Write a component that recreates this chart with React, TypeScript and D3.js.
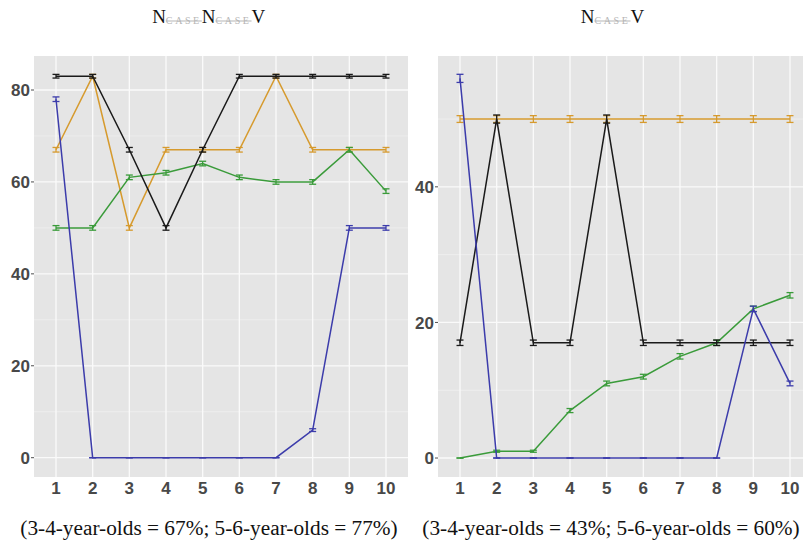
import * as d3 from "d3";
import React from "react";

// x categories (trial number)
const trials = ["1", "2", "3", "4", "5", "6", "7", "8", "9", "10"];

// left panel: NcaseNcaseV
const leftBlack = [83, 83, 67, 50, 67, 83, 83, 83, 83, 83];
const leftOrange = [67, 83, 50, 67, 67, 67, 83, 67, 67, 67];
const leftGreen = [50, 50, 61, 62, 64, 61, 60, 60, 67, 58];
const leftBlue = [78, 0, 0, 0, 0, 0, 0, 6, 50, 50];
// error bar half-widths (percentage points)
const leftBlackErr = [0.4, 0.4, 0.5, 0.5, 0.5, 0.4, 0.4, 0.4, 0.4, 0.4];
const leftOrangeErr = [0.5, 0.4, 0.5, 0.5, 0.5, 0.5, 0.4, 0.5, 0.5, 0.5];
const leftGreenErr = [0.5, 0.5, 0.5, 0.5, 0.5, 0.5, 0.5, 0.5, 0.5, 0.5];
const leftBlueErr = [0.5, 0, 0, 0, 0, 0, 0, 0.3, 0.5, 0.5];
const leftTicks = [0, 20, 40, 60, 80];
const leftMinor = [10, 30, 50, 70];

// right panel: NcaseV
const rightBlack = [17, 50, 17, 17, 50, 17, 17, 17, 17, 17];
const rightOrange = [50, 50, 50, 50, 50, 50, 50, 50, 50, 50];
const rightGreen = [0, 1, 1, 7, 11, 12, 15, 17, 22, 24];
const rightBlue = [56, 0, 0, 0, 0, 0, 0, 0, 22, 11];
const rightBlackErr = [0.4, 0.6, 0.4, 0.4, 0.6, 0.4, 0.4, 0.4, 0.4, 0.4];
const rightOrangeErr = [0.5, 0.5, 0.5, 0.5, 0.5, 0.5, 0.5, 0.5, 0.5, 0.5];
const rightGreenErr = [0, 0.15, 0.15, 0.3, 0.35, 0.35, 0.4, 0.4, 0.4, 0.4];
const rightBlueErr = [0.6, 0, 0, 0, 0, 0, 0, 0, 0.4, 0.35];
const rightTicks = [0, 20, 40];
const rightMinor = [10, 30, 50];

const captions = [
  "(3-4-year-olds = 67%; 5-6-year-olds = 77%)",
  "(3-4-year-olds = 43%; 5-6-year-olds = 60%)",
];

const colors = {
  orange: "#d69a2d",
  green: "#3a9b3a",
  black: "#1a1a1a",
  blue: "#3c3cab",
};

type Series = { values: number[]; err: number[]; color: string };

function Panel({
  x0, x1, y0, y1, domain, ticks, minor, series,
}: {
  x0: number; x1: number; y0: number; y1: number;
  domain: [number, number]; ticks: number[]; minor: number[];
  series: Series[];
}) {
  const x = d3.scalePoint<string>().domain(trials).range([x0, x1]).padding(0.6);
  const y = d3.scaleLinear().domain(domain).range([y1, y0]);
  const line = d3
    .line<number>()
    .x((_, i) => x(trials[i])!)
    .y((d) => y(d));
  const cap = 3.5;
  return (
    <g>
      <rect x={x0} y={y0} width={x1 - x0} height={y1 - y0} fill="#e5e5e5" />
      {minor.map((t) => (
        <line key={"m" + t} x1={x0} x2={x1} y1={y(t)} y2={y(t)} stroke="#f2f2f2" strokeWidth={0.7} />
      ))}
      {ticks.map((t) => (
        <line key={"t" + t} x1={x0} x2={x1} y1={y(t)} y2={y(t)} stroke="#fafafa" strokeWidth={1.3} />
      ))}
      {trials.map((c) => (
        <line key={c} x1={x(c)} x2={x(c)} y1={y0} y2={y1} stroke="#fafafa" strokeWidth={1.3} />
      ))}
      {series.map((s, si) => (
        <g key={si} stroke={s.color} fill="none">
          <path d={line(s.values)!} strokeWidth={1.5} />
          {s.values.map((v, i) => {
            const cx = x(trials[i])!;
            const e = s.err[i];
            return (
              <g key={i} strokeWidth={1.3}>
                <line x1={cx} x2={cx} y1={y(v - e)} y2={y(v + e)} />
                <line x1={cx - cap} x2={cx + cap} y1={y(v - e)} y2={y(v - e)} />
                <line x1={cx - cap} x2={cx + cap} y1={y(v + e)} y2={y(v + e)} />
              </g>
            );
          })}
        </g>
      ))}
      {ticks.map((t) => (
        <g key={"l" + t}>
          <line x1={x0 - 3} x2={x0} y1={y(t)} y2={y(t)} stroke="#4d4d4d" strokeWidth={1} />
          <text
            x={x0 - 4}
            y={y(t)}
            dy="0.36em"
            textAnchor="end"
            fontFamily="Liberation Sans, Arial, sans-serif"
            fontWeight="bold"
            fontSize={17}
            fill="#484848"
          >
            {t}
          </text>
        </g>
      ))}
      {trials.map((c) => (
        <text
          key={"x" + c}
          x={x(c)}
          y={y1 + 16.5}
          textAnchor="middle"
          fontFamily="Liberation Sans, Arial, sans-serif"
          fontWeight="bold"
          fontSize={17}
          fill="#484848"
        >
          {c}
        </text>
      ))}
    </g>
  );
}

function Case() {
  return (
    <tspan
      fontSize={10}
      fill="#b5b5b5"
      dy={1}
      letterSpacing={2.6}
      style={{ textDecoration: "line-through" }}
    >
      CASE
    </tspan>
  );
}

export default function App() {
  const serif = "Liberation Serif, Times New Roman, serif";
  return (
    <svg
      width={803}
      height={543}
      style={{ position: "absolute", left: 0, top: 0, background: "#fff" }}
    >
      <text x={208.7} y={23} textAnchor="middle" fontFamily={serif} fontSize={19} fill="#111">
        N<Case />
        <tspan dy={-1}>N</tspan>
        <Case />
        <tspan dy={-1}>V</tspan>
      </text>
      <text x={612.5} y={23} textAnchor="middle" fontFamily={serif} fontSize={19} fill="#111">
        N<Case />
        <tspan dy={-1}>V</tspan>
      </text>

      <Panel
        x0={34}
        x1={408}
        y0={56}
        y1={477}
        domain={[-4.2, 87.4]}
        ticks={leftTicks}
        minor={leftMinor}
        series={[
          { values: leftOrange, err: leftOrangeErr, color: colors.orange },
          { values: leftGreen, err: leftGreenErr, color: colors.green },
          { values: leftBlack, err: leftBlackErr, color: colors.black },
          { values: leftBlue, err: leftBlueErr, color: colors.blue },
        ]}
      />
      <Panel
        x0={438}
        x1={812}
        y0={56}
        y1={477}
        domain={[-2.8, 59.3]}
        ticks={rightTicks}
        minor={rightMinor}
        series={[
          { values: rightOrange, err: rightOrangeErr, color: colors.orange },
          { values: rightGreen, err: rightGreenErr, color: colors.green },
          { values: rightBlack, err: rightBlackErr, color: colors.black },
          { values: rightBlue, err: rightBlueErr, color: colors.blue },
        ]}
      />

      <text x={209} y={535} textAnchor="middle" fontFamily={serif} fontSize={21.3} fill="#111">
        {captions[0]}
      </text>
      <text x={611} y={535} textAnchor="middle" fontFamily={serif} fontSize={21.3} fill="#111">
        {captions[1]}
      </text>
    </svg>
  );
}
